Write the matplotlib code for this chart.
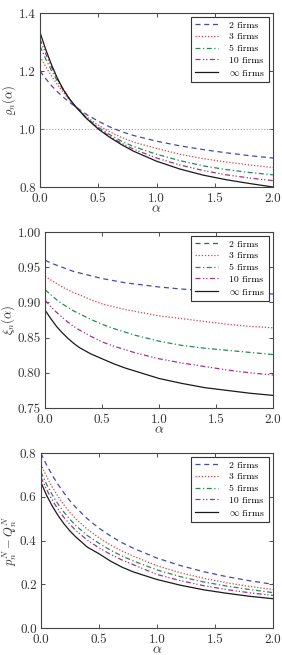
import matplotlib
matplotlib.use("Agg")
import matplotlib.pyplot as plt
import numpy as np

plt.rcParams['font.family'] = 'serif'
plt.rcParams['font.serif'] = ['cmr10', 'DejaVu Serif']
plt.rcParams['mathtext.fontset'] = 'cm'
plt.rcParams['axes.formatter.use_mathtext'] = True

# alpha grid
alpha = [0, 0.05, 0.1, 0.15, 0.2, 0.25, 0.3, 0.4, 0.5, 0.6, 0.7, 0.8,
         1.0, 1.2, 1.4, 1.6, 1.8, 2.0]

labels = ["2 firms", "3 firms", "5 firms", "10 firms", r"$\infty$ firms"]

# panel 1: rho_n(alpha)
rho_2 = [1.200, 1.173, 1.149, 1.128, 1.110, 1.093, 1.078, 1.050, 1.027, 1.007,
         0.991, 0.978, 0.958, 0.942, 0.929, 0.918, 0.908, 0.900]
rho_3 = [1.250, 1.214, 1.182, 1.153, 1.126, 1.101, 1.078, 1.042, 1.013, 0.990,
         0.971, 0.955, 0.933, 0.913, 0.898, 0.886, 0.876, 0.867]
rho_5 = [1.286, 1.240, 1.200, 1.165, 1.134, 1.105, 1.079, 1.038, 1.006, 0.980,
         0.958, 0.940, 0.913, 0.891, 0.873, 0.860, 0.850, 0.842]
rho_10 = [1.310, 1.258, 1.212, 1.172, 1.137, 1.106, 1.079, 1.036, 1.002, 0.974,
          0.951, 0.931, 0.900, 0.876, 0.857, 0.842, 0.831, 0.822]
rho_inf = [1.333, 1.273, 1.220, 1.174, 1.136, 1.105, 1.080, 1.036, 1.000, 0.971,
           0.946, 0.924, 0.889, 0.862, 0.841, 0.825, 0.812, 0.800]

# panel 2: xi_n(alpha)
xi_2 = [0.960, 0.956, 0.953, 0.950, 0.947, 0.944, 0.942, 0.938, 0.934, 0.931,
        0.928, 0.926, 0.922, 0.919, 0.917, 0.915, 0.913, 0.912]
xi_3 = [0.937, 0.932, 0.927, 0.922, 0.918, 0.914, 0.911, 0.904, 0.898, 0.894,
        0.890, 0.887, 0.881, 0.877, 0.873, 0.869, 0.866, 0.864]
xi_5 = [0.918, 0.911, 0.904, 0.898, 0.893, 0.888, 0.884, 0.876, 0.869, 0.863,
        0.858, 0.853, 0.845, 0.839, 0.835, 0.832, 0.829, 0.826]
xi_10 = [0.903, 0.894, 0.886, 0.879, 0.872, 0.866, 0.861, 0.852, 0.844, 0.838,
         0.833, 0.828, 0.820, 0.814, 0.809, 0.804, 0.800, 0.797]
xi_inf = [0.889, 0.877, 0.866, 0.857, 0.849, 0.842, 0.836, 0.827, 0.820, 0.813,
          0.807, 0.802, 0.792, 0.785, 0.779, 0.775, 0.771, 0.768]

# panel 3: p_n^N - Q_n^N
pq_2 = [0.800, 0.745, 0.697, 0.655, 0.617, 0.582, 0.552, 0.500, 0.457, 0.421,
        0.390, 0.364, 0.320, 0.286, 0.258, 0.235, 0.216, 0.200]
pq_3 = [0.750, 0.692, 0.643, 0.600, 0.562, 0.529, 0.500, 0.452, 0.413, 0.380,
        0.352, 0.328, 0.285, 0.253, 0.228, 0.207, 0.190, 0.176]
pq_5 = [0.714, 0.656, 0.607, 0.565, 0.529, 0.497, 0.469, 0.423, 0.388, 0.356,
        0.329, 0.306, 0.266, 0.235, 0.211, 0.192, 0.176, 0.162]
pq_10 = [0.690, 0.632, 0.583, 0.541, 0.505, 0.474, 0.447, 0.402, 0.367, 0.337,
         0.311, 0.289, 0.245, 0.217, 0.194, 0.176, 0.161, 0.149]
pq_inf = [0.667, 0.606, 0.556, 0.513, 0.476, 0.444, 0.417, 0.370, 0.340, 0.306,
          0.278, 0.256, 0.222, 0.196, 0.175, 0.159, 0.145, 0.134]

colors = ['#4747b0', '#e23a46', '#238c52', '#aa2f80', '#1a1a1a']
styles = [(0, (4, 3)), (0, (1, 1.5)), (0, (4, 2, 1, 2)), (0, (4, 2, 1, 1.5, 1, 2)), '-']

panels = [
    ([rho_2, rho_3, rho_5, rho_10, rho_inf], r'$\varrho_n(\alpha)$',
     (0.8, 1.4), [0.8, 1.0, 1.2, 1.4], '%.1f', [0.142, 0.7145, 0.826, 0.2656]),
    ([xi_2, xi_3, xi_5, xi_10, xi_inf], r'$\xi_n(\alpha)$',
     (0.75, 1.0), [0.75, 0.80, 0.85, 0.90, 0.95, 1.00], '%.2f', [0.160, 0.377, 0.8085, 0.2687]),
    ([pq_2, pq_3, pq_5, pq_10, pq_inf], r'$p_n^N - Q_n^N$',
     (0.0, 0.8), [0.0, 0.2, 0.4, 0.6, 0.8], '%.1f', [0.145, 0.0412, 0.823, 0.267]),
]

fig = plt.figure(figsize=(2.82, 6.55), dpi=100)
for k, (series, ylab, ylim, yticks, fmt, pos) in enumerate(panels):
    ax = fig.add_axes(pos)
    if k == 0:
        ax.axhline(1.0, color='#999999', ls=':', lw=0.8)
    for s, c, ls, lab in zip(series, colors, styles, labels):
        ax.plot(alpha, s, color=c, ls=ls, lw=0.9, label=lab)
    ax.set_xlim(0, 2)
    ax.set_ylim(*ylim)
    ax.set_xticks([0.0, 0.5, 1.0, 1.5, 2.0])
    ax.set_xticklabels(['%.1f' % t for t in [0.0, 0.5, 1.0, 1.5, 2.0]])
    ax.set_yticks(yticks)
    ax.set_yticklabels([fmt % t for t in yticks])
    ax.tick_params(direction='in', top=True, right=True, length=3, width=0.6,
                   labelsize=9.5, colors='#333333')
    ax.tick_params(axis='x', pad=4)
    ax.tick_params(axis='y', pad=3)
    for sp in ax.spines.values():
        sp.set_color('#444444')
        sp.set_linewidth(0.8)
    ax.set_xlabel(r'$\alpha$', fontsize=10, labelpad=-1, color='#333333')
    ax.set_ylabel(ylab, fontsize=9, labelpad=0.5, color='#333333')
    leg = ax.legend(loc='upper right', fontsize=7, fancybox=False, framealpha=1,
                    edgecolor='#333333', handlelength=2.3, borderpad=0.4,
                    labelspacing=0.3, handletextpad=1.2, borderaxespad=0.4)
    leg.get_frame().set_linewidth(0.8)

fig.savefig('out.png', dpi=100)
